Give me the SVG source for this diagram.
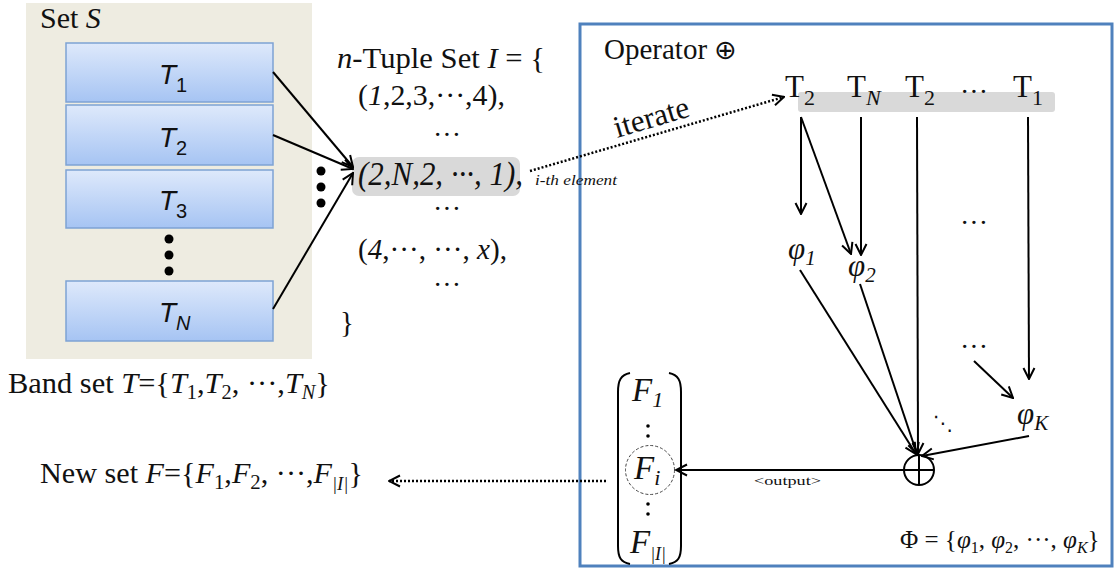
<svg xmlns="http://www.w3.org/2000/svg" width="1115" height="570" viewBox="0 0 1115 570">
<defs>
<linearGradient id="blue" x1="0" y1="0" x2="0" y2="1">
<stop offset="0" stop-color="#DEE9FB"/>
<stop offset="1" stop-color="#A6C4F3"/>
</linearGradient>
<marker id="arr" viewBox="0 0 14 14" refX="13" refY="7" markerWidth="14" markerHeight="14" orient="auto" markerUnits="userSpaceOnUse">
<path d="M2,1.5 L13,7 L2,12.5" fill="none" stroke="#000" stroke-width="2"/>
</marker>
</defs>
<style>
.s{font-family:"Liberation Serif","Times New Roman",serif;fill:#111}
.i{font-style:italic}
.box{fill:url(#blue);stroke:#7EA2D4;stroke-width:1.5}
.ln{stroke:#000;stroke-width:2;fill:none}
.dot{stroke:#000;stroke-width:2.5;stroke-dasharray:2 2;fill:none}
.t{font-family:"Liberation Sans",Arial,sans-serif;font-style:italic;font-size:28px;fill:#111}
.sub{font-style:normal;font-size:20px}
</style>

<g id="operator">
<rect x="580" y="24" width="532" height="542" fill="#fff" stroke="#4F81BD" stroke-width="3"/>
<text class="s" x="604" y="59" font-size="29">Operator <tspan font-family="DejaVu Sans, sans-serif" font-size="27">⊕</tspan></text>
</g>

<g id="setS">
<rect x="26" y="3" width="286" height="356" fill="#EEECE1"/>
<text class="s" x="40" y="28" font-size="30">Set <tspan class="i">S</tspan></text>
</g>
<g id="T1"><rect class="box" x="66" y="43" width="207" height="59"/><text class="t" x="159" y="84">T<tspan class="sub" dy="8">1</tspan></text></g>
<g id="T2"><rect class="box" x="66" y="105" width="207" height="60"/><text class="t" x="159" y="147">T<tspan class="sub" dy="8">2</tspan></text></g>
<g id="T3"><rect class="box" x="66" y="170" width="207" height="58"/><text class="t" x="159" y="210">T<tspan class="sub" dy="8">3</tspan></text></g>
<g id="TN"><rect class="box" x="66" y="281" width="207" height="60"/><text class="t" x="159" y="322">T<tspan class="sub" dy="8" style="font-style:italic">N</tspan></text></g>
<g id="vdots1" fill="#000">
<circle cx="169" cy="239" r="4.5"/><circle cx="169" cy="255" r="4.5"/><circle cx="169" cy="271" r="4.5"/>
</g>
<g id="vdots2" fill="#000">
<circle cx="321" cy="171" r="4.5"/><circle cx="321" cy="187" r="4.5"/><circle cx="321" cy="203" r="4.5"/>
</g>
<g id="bandset">
<text class="s" x="8" y="393" font-size="30" textLength="322" lengthAdjust="spacingAndGlyphs">Band set <tspan class="i">T</tspan>={<tspan class="i">T</tspan><tspan font-size="20" dy="6">1</tspan><tspan dy="-6">,</tspan><tspan class="i">T</tspan><tspan font-size="20" dy="6">2</tspan><tspan dy="-6">, ···,</tspan><tspan class="i">T</tspan><tspan class="i" font-size="20" dy="6">N</tspan><tspan dy="-6">}</tspan></text>
</g>

<g id="tupleset">
<rect x="352" y="157" width="168" height="39" rx="7" fill="#D9D9D9"/>
<text class="s" x="337" y="68" font-size="29" textLength="208" lengthAdjust="spacingAndGlyphs"><tspan class="i">n</tspan>-Tuple Set <tspan class="i">I</tspan> = {</text>
<text class="s" x="358" y="105" font-size="29" textLength="147" lengthAdjust="spacingAndGlyphs">(<tspan class="i">1</tspan>,2,3,···,4),</text>
<text class="s" x="447" y="144" font-size="28" text-anchor="middle">···</text>
<text class="s i" x="358" y="185" font-size="33" textLength="165" lengthAdjust="spacingAndGlyphs">(2,N,2, ···, 1),</text>
<text class="s i" x="535" y="185" font-size="14" textLength="82" lengthAdjust="spacingAndGlyphs">i-th element</text>
<text class="s" x="447" y="218" font-size="28" text-anchor="middle">···</text>
<text class="s" x="358" y="259" font-size="29" textLength="149" lengthAdjust="spacingAndGlyphs">(<tspan class="i">4</tspan>,···, ···, <tspan class="i">x</tspan>),</text>
<text class="s" x="447" y="294" font-size="28" text-anchor="middle">···</text>
<text class="s" x="340" y="332" font-size="29">}</text>
</g>

<g id="sequence">
<rect x="798" y="92" width="257" height="20" rx="3" fill="#D9D9D9"/>
<text class="s" x="785" y="97" font-size="31">T<tspan font-size="22" dy="8">2</tspan></text>
<text class="s" x="847" y="97" font-size="31">T<tspan class="i" font-size="22" dy="8">N</tspan></text>
<text class="s" x="905" y="97" font-size="31">T<tspan font-size="22" dy="8">2</tspan></text>
<text class="s" x="974" y="101" font-size="28" text-anchor="middle">···</text>
<text class="s" x="1013" y="97" font-size="31">T<tspan font-size="22" dy="8">1</tspan></text>
</g>
<g id="phi1"><text class="s i" x="788" y="259" font-size="31">φ<tspan font-size="21" dy="6">1</tspan></text></g>
<g id="phi2"><text class="s i" x="848" y="276" font-size="31">φ<tspan font-size="21" dy="6">2</tspan></text></g>
<g id="phiK"><text class="s i" x="1017" y="424" font-size="31">φ<tspan font-size="21" dy="6">K</tspan></text></g>
<g id="ell1"><text class="s" x="974" y="232" font-size="28" text-anchor="middle">···</text></g>
<g id="ell2"><text class="s" x="974" y="356" font-size="28" text-anchor="middle">···</text></g>
<g id="ell3"><text x="943" y="430" font-family="DejaVu Sans, sans-serif" font-size="20" text-anchor="middle" fill="#111">⋱</text></g>
<g id="oplus">
<circle cx="919" cy="470" r="15" fill="none" stroke="#000" stroke-width="2"/>
<line x1="904" y1="470" x2="934" y2="470" stroke="#000" stroke-width="2"/>
<line x1="919" y1="455" x2="919" y2="485" stroke="#000" stroke-width="2"/>
</g>
<g id="matrix">
<path d="M630,373 C621,375 618,380 618,392 L618,546 C618,558 621,562 630,564" class="ln"/>
<path d="M669,373 C678,375 681,380 681,392 L681,546 C681,558 678,562 669,564" class="ln"/>
<text class="s i" x="632" y="401" font-size="33">F<tspan font-size="22" dy="6">1</tspan></text>
<g fill="#000"><circle cx="648" cy="426" r="1.8"/><circle cx="648" cy="436" r="1.8"/><circle cx="648" cy="504" r="1.8"/><circle cx="648" cy="514" r="1.8"/></g>
<circle cx="650" cy="470" r="24.5" fill="none" stroke="#444" stroke-width="1" stroke-dasharray="3 2"/>
<text class="s i" x="634" y="479" font-size="33">F<tspan font-size="22" dy="6">i</tspan></text>
<text class="s i" x="630" y="553" font-size="33">F<tspan font-size="18" dy="7">|I|</tspan></text>
</g>
<g id="newset">
<text class="s" x="40" y="483" font-size="29" textLength="323" lengthAdjust="spacingAndGlyphs">New set <tspan class="i">F</tspan>={<tspan class="i">F</tspan><tspan font-size="20" dy="6">1</tspan><tspan dy="-6">,</tspan><tspan class="i">F</tspan><tspan font-size="20" dy="6">2</tspan><tspan dy="-6">, ···,</tspan><tspan class="i">F</tspan><tspan class="i" font-size="18" dy="7">|I|</tspan><tspan dy="-7">}</tspan></text>
</g>
<g id="phiset">
<text class="s" x="900" y="548" font-size="25">Φ = {<tspan class="i">φ</tspan><tspan font-size="16" dy="5">1</tspan><tspan dy="-5">, </tspan><tspan class="i">φ</tspan><tspan font-size="16" dy="5">2</tspan><tspan dy="-5">, ···, </tspan><tspan class="i">φ</tspan><tspan class="i" font-size="16" dy="5">K</tspan><tspan dy="-5">}</tspan></text>
</g>
<g id="labels">
<text class="s" x="617" y="138" font-size="31" transform="rotate(-16.5 617 138)">iterate</text>
<text class="s" x="754" y="485" font-size="13" textLength="67" lengthAdjust="spacingAndGlyphs">&lt;output&gt;</text>
</g>

<g id="connectors">
<line class="ln" x1="273" y1="72" x2="353" y2="167" marker-end="url(#arr)"/>
<line class="ln" x1="273" y1="135" x2="353" y2="169" marker-end="url(#arr)"/>
<line class="ln" x1="273" y1="309" x2="353" y2="173" marker-end="url(#arr)"/>
<line class="dot" x1="530" y1="171" x2="784" y2="97" marker-end="url(#arr)"/>
<line class="ln" x1="801" y1="117" x2="801" y2="214" marker-end="url(#arr)"/>
<line class="ln" x1="801" y1="117" x2="851" y2="254" marker-end="url(#arr)"/>
<line class="ln" x1="861" y1="117" x2="861" y2="255" marker-end="url(#arr)"/>
<line class="ln" x1="917" y1="117" x2="918" y2="454" marker-end="url(#arr)"/>
<line class="ln" x1="1028" y1="117" x2="1029" y2="379" marker-end="url(#arr)"/>
<line class="ln" x1="800" y1="270" x2="916" y2="454" marker-end="url(#arr)"/>
<line class="ln" x1="860" y1="284" x2="917" y2="454" marker-end="url(#arr)"/>
<line class="ln" x1="974" y1="361" x2="1013" y2="398" marker-end="url(#arr)"/>
<line class="ln" x1="1029" y1="436" x2="922" y2="456" marker-end="url(#arr)"/>
<line class="ln" x1="904" y1="470" x2="676" y2="470" marker-end="url(#arr)"/>
<line class="dot" x1="606" y1="481" x2="389" y2="481" marker-end="url(#arr)"/>
</g>
</svg>
